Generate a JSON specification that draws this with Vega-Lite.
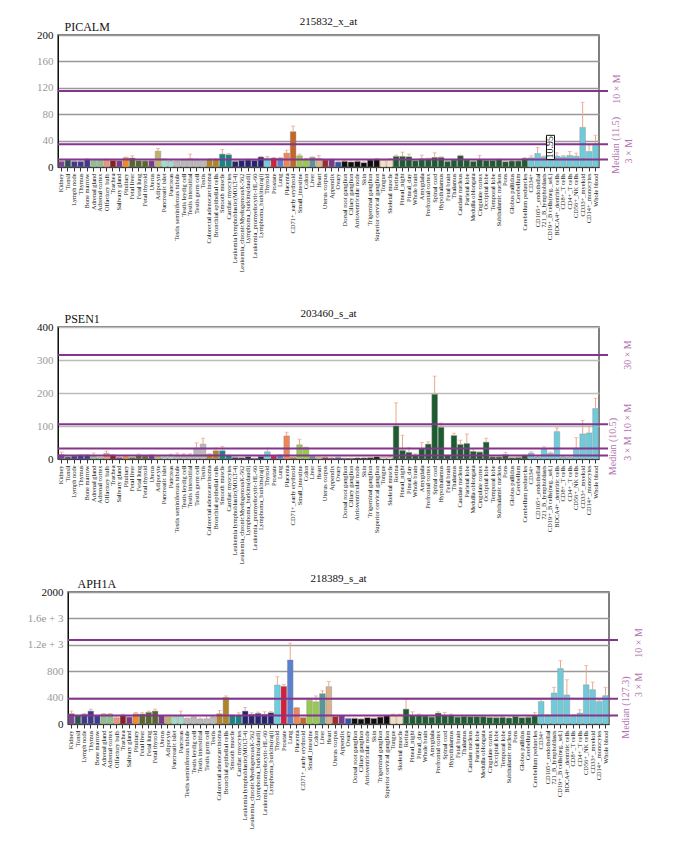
{
"$schema": "https://vega.github.io/schema/vega-lite/v6.json",
"background": "white",
"padding": {"left": 26, "top": 15, "right": 5, "bottom": 0},
"config": {
  "font": "Liberation Serif",
  "view": {"stroke": "#555", "strokeWidth": 1.5},
  "axis": {"labelFont": "Liberation Serif", "titleFont": "Liberation Serif"},
  "title": {"font": "Liberation Serif", "fontWeight": "normal", "fontSize": 11, "color": "#111", "anchor": "middle", "offset": -7}
},
"datasets": {
"atlas": [
{"t":"Kidney","g":"kid","a":8.5,"ae":10,"b":13,"be":21,"c":155,"ce":195},
{"t":"Tonsil","g":"ton","a":10.5,"ae":11.5,"b":6,"be":7,"c":125,"ce":130},
{"t":"Lymph node","g":"lym","a":8.5,"ae":9.5,"b":9,"be":10,"c":145,"ce":160},
{"t":"Thymus","g":"lym","a":8.5,"ae":9.5,"b":12,"be":13,"c":195,"ce":225},
{"t":"Bone marrow","g":"lym","a":11,"ae":12.5,"b":12,"be":13,"c":125,"ce":130},
{"t":"Adrenal gland","g":"adr","a":10,"ae":11,"b":8,"be":18,"c":150,"ce":158},
{"t":"Adrenal cortex","g":"adr","a":10.5,"ae":11.5,"b":5,"be":6,"c":150,"ce":158},
{"t":"Olfactory bulb","g":"olf","a":10.5,"ae":12,"b":17,"be":24,"c":95,"ce":125},
{"t":"Trachea","g":"tra","a":10,"ae":11,"b":12,"be":13,"c":135,"ce":148},
{"t":"Salivary gland","g":"pur","a":9.5,"ae":10.5,"b":5,"be":6,"c":105,"ce":110},
{"t":"Pituitary","g":"pit","a":14,"ae":15,"b":7,"be":8,"c":155,"ce":175},
{"t":"Fetal liver","g":"fet","a":13.5,"ae":17,"b":5,"be":6,"c":150,"ce":172},
{"t":"Fetal lung","g":"fet","a":9.5,"ae":10.5,"b":11,"be":15,"c":175,"ce":195},
{"t":"Fetal thyroid","g":"fet","a":9,"ae":10,"b":9,"be":10,"c":195,"ce":225},
{"t":"Uterus","g":"pur","a":9.5,"ae":10.5,"b":12,"be":13,"c":125,"ce":130},
{"t":"Adipocyte","g":"adi","a":24,"ae":28,"b":7,"be":8,"c":115,"ce":120},
{"t":"Pancreatic islet","g":"pan","a":11.5,"ae":12.5,"b":6,"be":7,"c":110,"ce":115},
{"t":"Pancreas","g":"pan","a":9,"ae":10,"b":7,"be":15,"c":125,"ce":195},
{"t":"Testis seminiferous tubule","g":"tes","a":9.5,"ae":11,"b":11,"be":18,"c":85,"ce":90},
{"t":"Testis leydig cell","g":"tes","a":10.5,"ae":12,"b":11,"be":16,"c":105,"ce":120},
{"t":"Testis interstitial","g":"tes","a":12.5,"ae":19.5,"b":11,"be":16,"c":75,"ce":90},
{"t":"Testis germ cell","g":"tes","a":11,"ae":12,"b":33,"be":49,"c":80,"ce":130},
{"t":"Testis","g":"tes","a":9.5,"ae":10.5,"b":45,"be":63,"c":105,"ce":110},
{"t":"Colorectal adenocarcinoma","g":"gol","a":11,"ae":12.5,"b":14,"be":16,"c":155,"ce":205},
{"t":"Bronchial epithelial cells","g":"gol","a":11.5,"ae":12.5,"b":25,"be":33,"c":400,"ce":425},
{"t":"Smooth muscle","g":"mus","a":19.5,"ae":26.5,"b":25,"be":38,"c":130,"ce":140},
{"t":"Cardiac myocytes","g":"mus","a":18.5,"ae":20.5,"b":11,"be":12,"c":135,"ce":170},
{"t":"Leukemia lymphoblastic(MOLT-4)","g":"leu","a":8.5,"ae":9.5,"b":5,"be":6,"c":195,"ce":250},
{"t":"Leukemia_chronicMyelogenousK-562","g":"leu","a":10,"ae":11,"b":4,"be":5,"c":145,"ce":170},
{"t":"Lymphoma_burkitts(daudi)","g":"leu","a":10.5,"ae":12,"b":7,"be":8,"c":160,"ce":180},
{"t":"Leukemia_promyelocytic-HL-60","g":"leu","a":10,"ae":11,"b":2,"be":3,"c":145,"ce":185},
{"t":"Lymphoma_burkitts(raji)","g":"leu","a":15,"ae":16,"b":8,"be":9,"c":170,"ce":190},
{"t":"Thyroid","g":"thy","a":13.5,"ae":16,"b":22,"be":33,"c":590,"ce":715},
{"t":"Prostate","g":"pro","a":13.5,"ae":14.5,"b":9,"be":10,"c":570,"ce":600},
{"t":"Lung","g":"lun","a":13.5,"ae":14.5,"b":12,"be":13,"c":970,"ce":1225},
{"t":"Placenta","g":"pla","a":21,"ae":25.5,"b":70,"be":81,"c":245,"ce":250},
{"t":"CD71+_early erythroid","g":"ery","a":53.5,"ae":62,"b":5,"be":6,"c":95,"ce":100},
{"t":"Small_intestine","g":"int","a":17,"ae":19.5,"b":43,"be":60,"c":360,"ce":370},
{"t":"Colon","g":"int","a":12,"ae":13,"b":35,"be":36,"c":335,"ce":425},
{"t":"Liver","g":"liv","a":14.5,"ae":15.5,"b":8,"be":9,"c":460,"ce":505},
{"t":"Heart","g":"hea","a":13,"ae":17.5,"b":5,"be":6,"c":565,"ce":645},
{"t":"Uterus corpus","g":"ute","a":10.5,"ae":11.5,"b":5,"be":6,"c":115,"ce":120},
{"t":"Appendix","g":"pur","a":11,"ae":12,"b":3,"be":4,"c":125,"ce":130},
{"t":"Ovary","g":"ova","a":7.5,"ae":8.5,"b":5,"be":6,"c":85,"ce":90},
{"t":"Dorsal root ganglion","g":"gan","a":8.5,"ae":10,"b":2,"be":3,"c":85,"ce":90},
{"t":"Ciliary ganglion","g":"gan","a":7.5,"ae":9,"b":2,"be":3,"c":75,"ce":80},
{"t":"Atrioventricular node","g":"gan","a":8.5,"ae":9.5,"b":3,"be":4,"c":95,"ce":100},
{"t":"Skin","g":"gan","a":6.5,"ae":8,"b":3,"be":4,"c":85,"ce":90},
{"t":"Trigeminal ganglion","g":"gan","a":10.5,"ae":11.5,"b":4,"be":5,"c":105,"ce":110},
{"t":"Superior cervical ganglion","g":"gan","a":12,"ae":13,"b":6,"be":8,"c":125,"ce":130},
{"t":"Tongue","g":"ske","a":10.5,"ae":11.5,"b":5,"be":6,"c":140,"ce":150},
{"t":"Skeletal muscle","g":"ske","a":11.5,"ae":12.5,"b":6,"be":7,"c":140,"ce":150},
{"t":"Retina","g":"bra","a":16,"ae":18,"b":100,"be":170,"c":225,"ce":375},
{"t":"Pineal_night","g":"bra","a":16,"ae":22.5,"b":26,"be":72,"c":125,"ce":185},
{"t":"Pineal_day","g":"bra","a":15.5,"ae":19.5,"b":20,"be":34,"c":135,"ce":150},
{"t":"Whole brain","g":"bra","a":9.5,"ae":10.5,"b":12,"be":16,"c":120,"ce":130},
{"t":"Amygdala","g":"bra","a":12.5,"ae":18,"b":31,"be":50,"c":105,"ce":110},
{"t":"Prefrontal cortex","g":"bra","a":12.5,"ae":13.5,"b":45,"be":52,"c":165,"ce":185},
{"t":"Spinal cord","g":"bra","a":14.5,"ae":21.5,"b":196,"be":251,"c":130,"ce":175},
{"t":"Hypothalamus","g":"bra","a":14.5,"ae":15.5,"b":96,"be":109,"c":130,"ce":150},
{"t":"Fetal brain","g":"bra","a":8.5,"ae":9.5,"b":11,"be":12,"c":105,"ce":110},
{"t":"Thalamus","g":"bra","a":10.5,"ae":11.5,"b":71,"be":78,"c":115,"ce":120},
{"t":"Caudate nucleus","g":"bra","a":17,"ae":18,"b":44,"be":57,"c":110,"ce":115},
{"t":"Parietal lobe","g":"bra","a":10.5,"ae":11.5,"b":47,"be":76,"c":110,"ce":115},
{"t":"Medulla oblongata","g":"bra","a":8.5,"ae":9.5,"b":23,"be":31,"c":110,"ce":115},
{"t":"Cingulate cortex","g":"bra","a":11.5,"ae":17.5,"b":21,"be":22,"c":100,"ce":105},
{"t":"Occipital lobe","g":"bra","a":10,"ae":11,"b":51,"be":63,"c":95,"ce":110},
{"t":"Temporal lobe","g":"bra","a":10,"ae":11,"b":6,"be":7,"c":100,"ce":115},
{"t":"Subthalamic nucleus","g":"bra","a":11,"ae":12,"b":6,"be":7,"c":90,"ce":105},
{"t":"Pons","g":"bra","a":8,"ae":9,"b":13,"be":20,"c":115,"ce":120},
{"t":"Globus pallidus","g":"bra","a":9,"ae":10,"b":4,"be":5,"c":95,"ce":100},
{"t":"Cerebellum","g":"bra","a":9,"ae":10,"b":5,"be":6,"c":100,"ce":115},
{"t":"Cerebellum peduncles","g":"bra","a":13,"ae":14,"b":11,"be":12,"c":125,"ce":175},
{"t":"CD34+","g":"blo","a":14,"ae":17,"b":18,"be":22,"c":340,"ce":385},
{"t":"CD105+_endothelial","g":"blo","a":20.5,"ae":29.5,"b":6,"be":7,"c":135,"ce":140},
{"t":"721_B_lymphoblasts","g":"blo","a":15.5,"ae":16.5,"b":30,"be":37,"c":470,"ce":555},
{"t":"CD19+_B cells(neg._sel.)","g":"blo","a":15,"ae":16,"b":17,"be":21,"c":840,"ce":960},
{"t":"BDCA4+_dentritic cells","g":"blo","a":16.5,"ae":21.5,"b":83,"be":94,"c":440,"ce":670},
{"t":"CD8+_T cells","g":"blo","a":15.5,"ae":17.5,"b":6,"be":7,"c":135,"ce":140},
{"t":"CD4+_T cells","g":"blo","a":17.5,"ae":23.5,"b":5,"be":6,"c":165,"ce":215},
{"t":"CD56+_NK cells","g":"blo","a":16.5,"ae":21,"b":33,"be":65,"c":595,"ce":885},
{"t":"CD33+_myeloid","g":"blo","a":60,"ae":98,"b":76,"be":117,"c":520,"ce":635},
{"t":"CD14+_monocytes","g":"blo","a":23.5,"ae":32.5,"b":79,"be":99,"c":340,"ce":360},
{"t":"Whole blood","g":"blo","a":34.5,"ae":48,"b":153,"be":184,"c":430,"ce":555}
]
},
"spacing": 7,
"vconcat": [
{
"spacing": 34,
"vconcat": [
{
"width": 541, "height": 132,
"title": {"text": "215832_x_at"},
"layer": [
{"data": {"name": "atlas"},
 "mark": {"type": "bar", "stroke": "#8c8c8c", "strokeWidth": 0.4},
 "encoding": {
  "x": {"field": "t", "type": "nominal", "sort": null, "scale": {"paddingInner": 0.12, "paddingOuter": 0.1},
        "axis": {"title": null, "labelAngle": -90, "labelFontSize": 6.4, "labelPadding": 2, "tickSize": 4, "tickColor": "#333", "domainColor": "#333", "labelColor": "#222", "labelOverlap": false, "labelBound": false, "labelLimit": 300}},
  "y": {"field": "a", "type": "quantitative", "scale": {"domain": [0, 200]},
        "axis": {"title": "PICALM", "titleAngle": 0, "titleAlign": "left", "titleBaseline": "alphabetic", "titleX": 6, "titleY": -5, "titleFontSize": 12, "titleFontWeight": "normal", "titleColor": "#111",
                 "values": [0, 40, 80, 120, 160, 200], "tickCount": 20, "labelOverlap": false, "grid": true, "gridColor": "#999", "gridWidth": 1.5, "domainColor": "#111", "ticks": false, "labelPadding": 5, "labelFontSize": 11,
                 "labelColor": {"condition": {"test": "datum.value == 0 || datum.value == 200", "value": "#111"}, "value": "#999"}}},
  "color": {"field": "g", "type": "nominal", "legend": null,
            "scale": {"domain": ["kid","ton","lym","adr","olf","tra","pur","pit","fet","adi","pan","tes","gol","mus","leu","thy","pro","lun","pla","ery","int","liv","hea","ute","ova","gan","ske","bra","blo"],
                      "range": ["#7b4397","#2c5253","#3d3a8e","#8fbf8f","#e7957d","#8a1f1f","#7a3a8c","#f08a24","#56672e","#bdb36b","#a3dccb","#b9b9b9","#b08528","#178486","#26246e","#6ccfe0","#d11f3c","#5a80d0","#ee8655","#c4652a","#97c94e","#5a9598","#d8b38c","#a32828","#3752ad","#0d0d0d","#f4dfc2","#1d5b31","#6fcbd9"]}}
 }},
{"data": {"name": "atlas"},
 "mark": {"type": "rule", "color": "#e8a88a", "strokeWidth": 1},
 "encoding": {"x": {"field": "t", "type": "nominal", "sort": null}, "y": {"field": "a", "type": "quantitative"}, "y2": {"field": "ae"}}},
{"data": {"name": "atlas"},
 "mark": {"type": "tick", "color": "#e8a88a", "size": 4, "thickness": 1},
 "encoding": {"x": {"field": "t", "type": "nominal", "sort": null}, "y": {"field": "ae", "type": "quantitative"}}},
{"data": {"values": [{"v": 11.5}, {"v": 34.5}, {"v": 115}]},
 "mark": {"type": "rule", "color": "#86358e", "strokeWidth": 2, "x2Offset": 9},
 "encoding": {"y": {"field": "v", "type": "quantitative"}, "x": {"value": 0}, "x2": {"value": "width"}}},
{"data": {"values": [{"t": "CD19+_B cells(neg._sel.)", "lo": 11.5, "hi": 48}]},
 "mark": {"type": "bar", "fill": "white", "stroke": "#111", "strokeWidth": 1, "width": 8},
 "encoding": {"x": {"field": "t", "type": "nominal", "sort": null}, "y": {"field": "lo", "type": "quantitative"}, "y2": {"field": "hi"}}},
{"data": {"values": [{"t": "CD19+_B cells(neg._sel.)", "v": 29.75, "lab": "10.95"}]},
 "mark": {"type": "text", "angle": 270, "fontSize": 10, "color": "#111", "align": "center", "baseline": "middle"},
 "encoding": {"x": {"field": "t", "type": "nominal", "sort": null}, "y": {"field": "v", "type": "quantitative"}, "text": {"field": "lab"}}},
{"data": {"values": [{"v": 11.5, "lab": "Median (11.5)"}]},
 "mark": {"type": "text", "angle": 270, "fontSize": 10, "color": "#b070b0", "align": "center", "baseline": "middle", "dx": 14, "xOffset": 17},
 "encoding": {"y": {"field": "v", "type": "quantitative"}, "x": {"value": "width"}, "text": {"field": "lab"}}},
{"data": {"values": [{"v": 34.5, "lab": "3 × M"}]},
 "mark": {"type": "text", "angle": 270, "fontSize": 10, "color": "#b070b0", "align": "center", "baseline": "middle", "dx": -7, "xOffset": 30},
 "encoding": {"y": {"field": "v", "type": "quantitative"}, "x": {"value": "width"}, "text": {"field": "lab"}}},
{"data": {"values": [{"v": 115, "lab": "10 × M"}]},
 "mark": {"type": "text", "angle": 270, "fontSize": 10, "color": "#b070b0", "align": "center", "baseline": "middle", "dx": 2, "xOffset": 18},
 "encoding": {"y": {"field": "v", "type": "quantitative"}, "x": {"value": "width"}, "text": {"field": "lab"}}}
]
},
{
"width": 541, "height": 132,
"title": {"text": "203460_s_at"},
"layer": [
{"data": {"name": "atlas"},
 "mark": {"type": "bar", "stroke": "#8c8c8c", "strokeWidth": 0.4},
 "encoding": {
  "x": {"field": "t", "type": "nominal", "sort": null, "scale": {"paddingInner": 0.12, "paddingOuter": 0.1},
        "axis": {"title": null, "labelAngle": -90, "labelFontSize": 6.4, "labelPadding": 2, "tickSize": 4, "tickColor": "#333", "domainColor": "#333", "labelColor": "#222", "labelOverlap": false, "labelBound": false, "labelLimit": 300}},
  "y": {"field": "b", "type": "quantitative", "scale": {"domain": [0, 400]},
        "axis": {"title": "PSEN1", "titleAngle": 0, "titleAlign": "left", "titleBaseline": "alphabetic", "titleX": 6, "titleY": -5, "titleFontSize": 12, "titleFontWeight": "normal", "titleColor": "#111",
                 "values": [0, 100, 200, 300, 400], "tickCount": 20, "labelOverlap": false, "grid": true, "gridColor": "#bbb", "gridWidth": 1.5, "domainColor": "#111", "ticks": false, "labelPadding": 5, "labelFontSize": 11,
                 "labelColor": {"condition": {"test": "datum.value == 0 || datum.value == 400", "value": "#111"}, "value": "#999"}}},
  "color": {"field": "g", "type": "nominal", "legend": null,
            "scale": {"domain": ["kid","ton","lym","adr","olf","tra","pur","pit","fet","adi","pan","tes","gol","mus","leu","thy","pro","lun","pla","ery","int","liv","hea","ute","ova","gan","ske","bra","blo"],
                      "range": ["#7b4397","#2c5253","#3d3a8e","#8fbf8f","#e7957d","#8a1f1f","#7a3a8c","#f08a24","#56672e","#bdb36b","#a3dccb","#b9b9b9","#b08528","#178486","#26246e","#6ccfe0","#d11f3c","#5a80d0","#ee8655","#c4652a","#97c94e","#5a9598","#d8b38c","#a32828","#3752ad","#0d0d0d","#f4dfc2","#1d5b31","#6fcbd9"]}}
 }},
{"data": {"name": "atlas"},
 "mark": {"type": "rule", "color": "#e8a88a", "strokeWidth": 1},
 "encoding": {"x": {"field": "t", "type": "nominal", "sort": null}, "y": {"field": "b", "type": "quantitative"}, "y2": {"field": "be"}}},
{"data": {"name": "atlas"},
 "mark": {"type": "tick", "color": "#e8a88a", "size": 4, "thickness": 1},
 "encoding": {"x": {"field": "t", "type": "nominal", "sort": null}, "y": {"field": "be", "type": "quantitative"}}},
{"data": {"values": [{"v": 10.5}, {"v": 31.5}, {"v": 105}, {"v": 315}]},
 "mark": {"type": "rule", "color": "#86358e", "strokeWidth": 2, "x2Offset": 9},
 "encoding": {"y": {"field": "v", "type": "quantitative"}, "x": {"value": 0}, "x2": {"value": "width"}}},
{"data": {"values": [{"v": 10.5, "lab": "Median (10.5)"}]},
 "mark": {"type": "text", "angle": 270, "fontSize": 10, "color": "#b070b0", "align": "center", "baseline": "middle", "dx": 9, "xOffset": 14},
 "encoding": {"y": {"field": "v", "type": "quantitative"}, "x": {"value": "width"}, "text": {"field": "lab"}}},
{"data": {"values": [{"v": 31.5, "lab": "3 × M"}]},
 "mark": {"type": "text", "angle": 270, "fontSize": 10, "color": "#b070b0", "align": "center", "baseline": "middle", "dx": 0, "xOffset": 29},
 "encoding": {"y": {"field": "v", "type": "quantitative"}, "x": {"value": "width"}, "text": {"field": "lab"}}},
{"data": {"values": [{"v": 105, "lab": "10 × M"}]},
 "mark": {"type": "text", "angle": 270, "fontSize": 10, "color": "#b070b0", "align": "center", "baseline": "middle", "dx": 6, "xOffset": 29},
 "encoding": {"y": {"field": "v", "type": "quantitative"}, "x": {"value": "width"}, "text": {"field": "lab"}}},
{"data": {"values": [{"v": 315, "lab": "30 × M"}]},
 "mark": {"type": "text", "angle": 270, "fontSize": 10, "color": "#b070b0", "align": "center", "baseline": "middle", "dx": 0, "xOffset": 29},
 "encoding": {"y": {"field": "v", "type": "quantitative"}, "x": {"value": "width"}, "text": {"field": "lab"}}}
]
}
]
},
{
"spacing": -33,
"hconcat": [
{
"width": 1, "height": 1,
"view": {"stroke": null},
"data": {"values": [{"s": 0}]},
"mark": {"type": "point", "opacity": 0, "size": 0, "strokeWidth": 0},
"encoding": {"x": {"field": "s", "type": "quantitative", "axis": null}, "y": {"field": "s", "type": "quantitative", "axis": null}}
},
{
"width": 541, "height": 132,
"title": {"text": "218389_s_at"},
"layer": [
{"data": {"name": "atlas"},
 "mark": {"type": "bar", "stroke": "#8c8c8c", "strokeWidth": 0.4},
 "encoding": {
  "x": {"field": "t", "type": "nominal", "sort": null, "scale": {"paddingInner": 0.12, "paddingOuter": 0.1},
        "axis": {"title": null, "labelAngle": -90, "labelFontSize": 6.4, "labelPadding": 2, "tickSize": 4, "tickColor": "#333", "domainColor": "#333", "labelColor": "#222", "labelOverlap": false, "labelBound": false, "labelLimit": 300}},
  "y": {"field": "c", "type": "quantitative", "scale": {"domain": [0, 2000]},
        "axis": {"title": "APH1A", "titleAngle": 0, "titleAlign": "left", "titleBaseline": "alphabetic", "titleX": 9, "titleY": -5, "titleFontSize": 12, "titleFontWeight": "normal", "titleColor": "#111",
                 "values": [0, 400, 800, 1200, 1600, 2000], "tickCount": 20, "labelExpr": "datum.value == 1600 ? '1.6e + 3' : datum.value == 1200 ? '1.2e + 3' : datum.value == 2000 ? '2000' : datum.label", "labelOverlap": false, "grid": true, "gridColor": "#999", "gridWidth": 1.5, "domainColor": "#111", "ticks": false, "labelPadding": 5, "labelFontSize": 11,
                 "labelColor": {"condition": {"test": "datum.value == 0 || datum.value == 2000", "value": "#111"}, "value": "#999"}}},
  "color": {"field": "g", "type": "nominal", "legend": null,
            "scale": {"domain": ["kid","ton","lym","adr","olf","tra","pur","pit","fet","adi","pan","tes","gol","mus","leu","thy","pro","lun","pla","ery","int","liv","hea","ute","ova","gan","ske","bra","blo"],
                      "range": ["#7b4397","#2c5253","#3d3a8e","#8fbf8f","#e7957d","#8a1f1f","#7a3a8c","#f08a24","#56672e","#bdb36b","#a3dccb","#b9b9b9","#b08528","#178486","#26246e","#6ccfe0","#d11f3c","#5a80d0","#ee8655","#c4652a","#97c94e","#5a9598","#d8b38c","#a32828","#3752ad","#0d0d0d","#f4dfc2","#1d5b31","#6fcbd9"]}}
 }},
{"data": {"name": "atlas"},
 "mark": {"type": "rule", "color": "#e8a88a", "strokeWidth": 1},
 "encoding": {"x": {"field": "t", "type": "nominal", "sort": null}, "y": {"field": "c", "type": "quantitative"}, "y2": {"field": "ce"}}},
{"data": {"name": "atlas"},
 "mark": {"type": "tick", "color": "#e8a88a", "size": 4, "thickness": 1},
 "encoding": {"x": {"field": "t", "type": "nominal", "sort": null}, "y": {"field": "ce", "type": "quantitative"}}},
{"data": {"values": [{"v": 127.3}, {"v": 381.9}, {"v": 1273}]},
 "mark": {"type": "rule", "color": "#86358e", "strokeWidth": 2, "x2Offset": 9},
 "encoding": {"y": {"field": "v", "type": "quantitative"}, "x": {"value": 0}, "x2": {"value": "width"}}},
{"data": {"values": [{"v": 127.3, "lab": "Median (127.3)"}]},
 "mark": {"type": "text", "angle": 270, "fontSize": 10, "color": "#b070b0", "align": "center", "baseline": "middle", "dx": 8, "xOffset": 17},
 "encoding": {"y": {"field": "v", "type": "quantitative"}, "x": {"value": "width"}, "text": {"field": "lab"}}},
{"data": {"values": [{"v": 381.9, "lab": "3 × M"}]},
 "mark": {"type": "text", "angle": 270, "fontSize": 10, "color": "#b070b0", "align": "center", "baseline": "middle", "dx": 14, "xOffset": 30},
 "encoding": {"y": {"field": "v", "type": "quantitative"}, "x": {"value": "width"}, "text": {"field": "lab"}}},
{"data": {"values": [{"v": 1273, "lab": "10 × M"}]},
 "mark": {"type": "text", "angle": 270, "fontSize": 10, "color": "#b070b0", "align": "center", "baseline": "middle", "dx": -3, "xOffset": 30},
 "encoding": {"y": {"field": "v", "type": "quantitative"}, "x": {"value": "width"}, "text": {"field": "lab"}}}
]
}
]
}
]
}
